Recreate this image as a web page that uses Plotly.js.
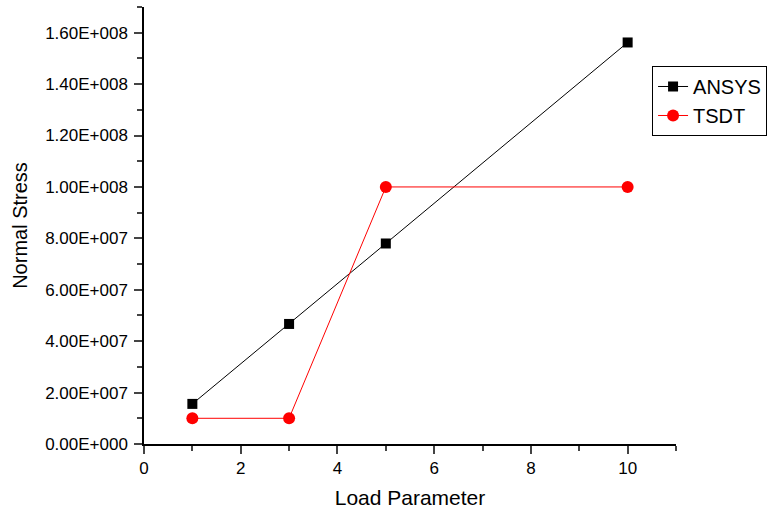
<!DOCTYPE html>
<html>
<head>
<meta charset="utf-8">
<script src="https://cdn.plot.ly/plotly-3.0.1.min.js"></script>
<style>html,body{margin:0;padding:0;background:#fff;}#chart{width:782px;height:516px;}</style>
</head>
<body>
<div id="chart"></div>
<script>
const loadParam = [1, 3, 5, 10];
const ansysStress = [1.56e7, 4.67e7, 7.8e7, 1.562e8];
const tsdtStress = [1.0e7, 1.0e7, 1.0e8, 1.0e8];
const yTickVals = [0, 2e7, 4e7, 6e7, 8e7, 1e8, 1.2e8, 1.4e8, 1.6e8];
const yTickText = ["0.00E+000", "2.00E+007", "4.00E+007", "6.00E+007", "8.00E+007", "1.00E+008", "1.20E+008", "1.40E+008", "1.60E+008"];
const xTickVals = [0, 2, 4, 6, 8, 10];

const font = "Liberation Sans, Arial, sans-serif";
const traces = [
  {x: loadParam, y: ansysStress, name: "ANSYS", mode: "lines+markers", type: "scatter",
   line: {color: "#000000", width: 1}, marker: {symbol: "square", color: "#000000", size: 10}},
  {x: loadParam, y: tsdtStress, name: "TSDT", mode: "lines+markers", type: "scatter",
   line: {color: "#ff0000", width: 1}, marker: {symbol: "circle", color: "#ff0000", size: 12}}
];
const layout = {
  width: 782, height: 516,
  margin: {l: 144, r: 106, t: 7, b: 72},
  paper_bgcolor: "#fff", plot_bgcolor: "#fff",
  font: {family: font, color: "#000"},
  showlegend: true,
  legend: {x: 0.955, y: 0.865, xanchor: "left", yanchor: "top", bordercolor: "#000", borderwidth: 1,
           font: {size: 20, family: font}, bgcolor: "#fff", tracegroupgap: 0, itemwidth: 30},
  xaxis: {range: [0, 11], tickvals: xTickVals, ticks: "outside", ticklen: 8, tickwidth: 1.5,
          showline: true, linewidth: 1.5, linecolor: "#000", showgrid: false, zeroline: false,
          tickfont: {size: 17}, title: {text: "Load Parameter", font: {size: 21}, standoff: 13},
          minor: {tickmode: "linear", tick0: 1, dtick: 2, ticks: "outside", ticklen: 5, tickwidth: 1.5, showgrid: false}},
  yaxis: {range: [0, 1.7e8], tickmode: "array", tickvals: yTickVals, ticktext: yTickText, ticks: "outside", ticklen: 8, tickwidth: 1.5,
          ticklabelstandoff: 3,
          showline: true, linewidth: 1.5, linecolor: "#000", showgrid: false, zeroline: false,
          tickfont: {size: 17}, title: {text: "Normal Stress", font: {size: 20}, standoff: 12},
          minor: {tickmode: "linear", tick0: 1e7, dtick: 2e7, ticks: "outside", ticklen: 5, tickwidth: 1.5, showgrid: false}}
};
Plotly.newPlot("chart", traces, layout, {displayModeBar: false});
</script>
</body>
</html>
